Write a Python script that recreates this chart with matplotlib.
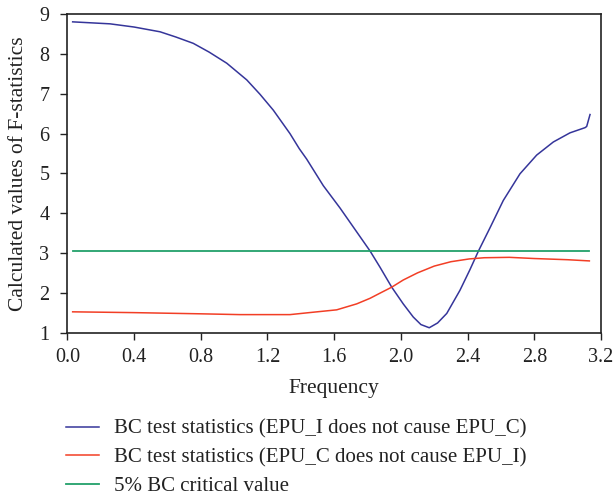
import matplotlib
matplotlib.use("Agg")
import matplotlib.pyplot as plt
from matplotlib.ticker import FormatStrFormatter

blue_freq = [0.032, 0.256, 0.40, 0.556, 0.65, 0.755, 0.85, 0.956, 1.076, 1.155, 1.235, 1.335,
             1.391, 1.435, 1.535, 1.635, 1.735, 1.815, 1.875, 1.945, 2.014, 2.074, 2.12, 2.17,
             2.22, 2.275, 2.354, 2.414, 2.464, 2.534, 2.614, 2.714, 2.814, 2.914, 3.014, 3.104,
             3.114, 3.118, 3.134]
blue_vals = [8.81, 8.76, 8.68, 8.56, 8.43, 8.27, 8.05, 7.77, 7.35, 6.99, 6.59, 6.00,
             5.62, 5.36, 4.69, 4.13, 3.53, 3.05, 2.64, 2.14, 1.72, 1.39, 1.20, 1.12,
             1.24, 1.48, 2.06, 2.58, 3.04, 3.63, 4.32, 4.99, 5.46, 5.79, 6.02, 6.15,
             6.18, 6.24, 6.48]

red_freq = [0.032, 0.4, 0.8, 1.035, 1.335, 1.45, 1.615, 1.735, 1.815, 1.875, 1.945, 2.014,
            2.1, 2.2, 2.3, 2.41, 2.5, 2.65, 2.8, 3.0, 3.13]
red_vals = [1.52, 1.50, 1.47, 1.45, 1.45, 1.50, 1.57, 1.72, 1.86, 1.99, 2.14, 2.32,
            2.50, 2.67, 2.78, 2.85, 2.88, 2.89, 2.86, 2.83, 2.80]

crit_freq = [0.032, 3.13]
crit_vals = [3.04, 3.04]

labels = ["BC test statistics (EPU_I does not cause EPU_C)",
          "BC test statistics (EPU_C does not cause EPU_I)",
          "5% BC critical value"]
colors = ["#35359a", "#f23e25", "#22a06a"]

x_ticks = [0.0, 0.4, 0.8, 1.2, 1.6, 2.0, 2.4, 2.8, 3.2]
y_ticks = [1, 2, 3, 4, 5, 6, 7, 8, 9]

plt.rcParams['font.family'] = ['Liberation Serif', 'DejaVu Serif']
fig = plt.figure(figsize=(6.16, 4.98), dpi=100)
ax = fig.add_axes([0.1093, 0.3323, 0.8664, 0.6390])

l1, = ax.plot(blue_freq, blue_vals, color=colors[0], lw=1.1)
l2, = ax.plot(red_freq, red_vals, color=colors[1], lw=1.1)
l3, = ax.plot(crit_freq, crit_vals, color=colors[2], lw=1.3)

ax.set_xlim(0, 3.2)
ax.set_ylim(1, 9)
ax.set_xticks(x_ticks)
ax.set_yticks(y_ticks)
ax.xaxis.set_major_formatter(FormatStrFormatter('%.1f'))
ax.tick_params(direction='out', length=5, width=1, labelsize=14.5, colors='#222222')
ax.tick_params(axis='y', pad=8)
ax.tick_params(axis='x', pad=6)
for s in ax.spines.values():
    s.set_linewidth(1.2)
    s.set_color('#222222')
ax.set_xlabel("Frequency", fontsize=15.5, color='#222222', labelpad=9)
ax.set_ylabel("Calculated values of F-statistics", fontsize=15.5, color='#222222', labelpad=8)

fig.legend([l1, l2, l3], labels, loc='upper left', bbox_to_anchor=(0.09, 0.179),
           frameon=False, fontsize=15, handlelength=1.6, handletextpad=0.72,
           labelspacing=0.44, labelcolor='#222222', borderpad=0.0)

fig.savefig("out.png", dpi=100)
